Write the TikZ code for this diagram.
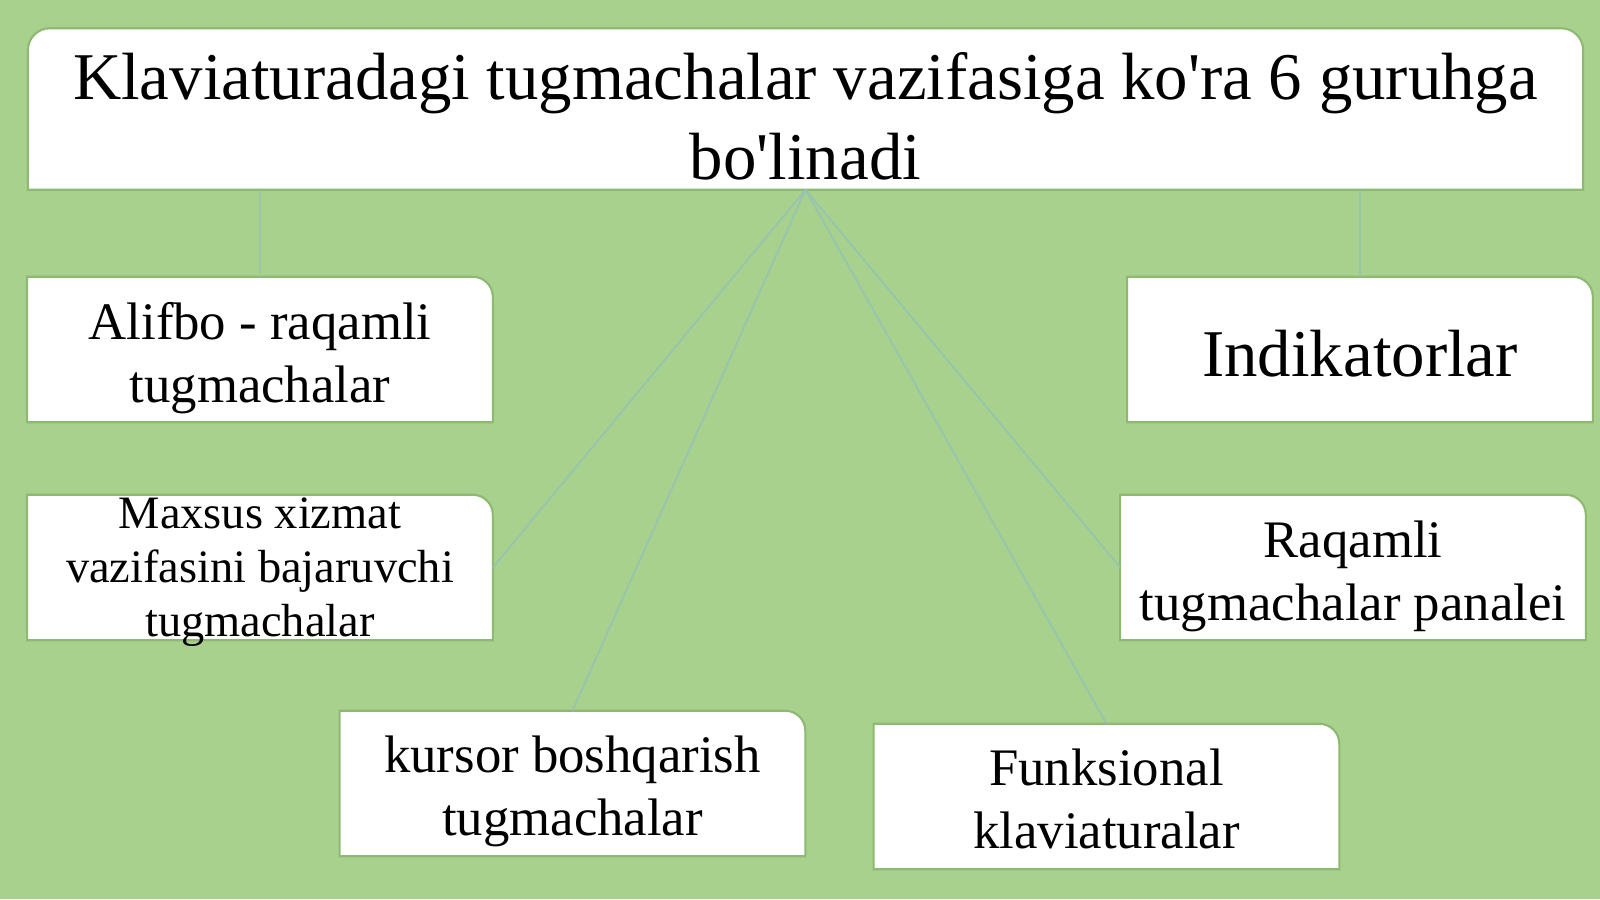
\documentclass[tikz,border=0pt]{standalone}
\usepackage{fontspec}
\setmainfont{Liberation Serif}
\usepackage{xcolor}
\usepackage{tikz}
\usetikzlibrary{calc}

\definecolor{slidegreen}{HTML}{A9D18E}
\definecolor{cardedge}{HTML}{8DB971}
\definecolor{linkcol}{HTML}{94C2B4}

\begin{document}
\begin{tikzpicture}[x=0.01cm, y=0.01cm,
    card/.style={rectangle, inner sep=0pt, minimum width=4.64cm, minimum height=1.44cm},
    cardline/.style={draw=cardedge, fill=white, line width=0.6pt},
    cardtext/.style={align=center, inner sep=0pt, font={\fontsize{15pt}{17.9pt}\selectfont}},
    link/.style={linkcol, line width=0.6pt, opacity=0.75}
]
    % Slide
    \fill[slidegreen] (0,0) rectangle (1600,-899);
    \useasboundingbox (0,0) rectangle (1600,-899);

    % Cards
    \node[card, minimum width=15.53cm, minimum height=1.6cm] (top) at (805.5,-109) {};
    \node[card] (alifbo) at (260,-349.5) {};
    \node[card] (maxsus) at (260,-567.5) {};
    \node[card] (indik) at (1360,-349.5) {};
    \node[card] (raqamli) at (1353,-567.5) {};
    \node[card] (kursor) at (572.5,-783.5) {};
    \node[card] (funk) at (1106.5,-796.5) {};

    % Card outlines
    \draw[cardline] (top.south west) -- ([yshift=-0.22cm]top.north west)
        arc[start angle=180, end angle=90, radius=0.22cm] -- ([xshift=-0.22cm]top.north east)
        arc[start angle=90, end angle=0, radius=0.22cm] -- (top.south east) -- cycle;
    \foreach \n in {alifbo, maxsus, indik, raqamli, kursor, funk}
        \draw[cardline] (\n.south west) -- (\n.north west) -- ([xshift=-0.2cm]\n.north east)
            arc[start angle=90, end angle=0, radius=0.2cm] -- (\n.south east) -- cycle;

    % Links
    \draw[link] (top.south -| alifbo.north) -- (alifbo.north);
    \draw[link] (top.south -| indik.north) -- (indik.north);
    \draw[link] (top.south) -- (maxsus.east);
    \draw[link] (top.south) -- (kursor.north);
    \draw[link] (top.south) -- (funk.north);
    \draw[link] (top.south) -- (raqamli.west);

    % Texts
    \node[cardtext, font={\fontsize{19pt}{22.5pt}\selectfont}] (top-t) at (805.5,-116.3)
        {Klaviaturadagi tugmachalar vazifasiga ko\textquotesingle ra 6 guruhga\\bo\textquotesingle linadi};
    \node[cardtext] (alifbo-t) at (260,-358) {Alifbo - raqamli\\tugmachalar};
    \node[cardtext, font={\fontsize{13.2pt}{15.4pt}\selectfont}] (maxsus-t) at (260,-572)
        {Maxsus xizmat\\vazifasini bajaruvchi\\tugmachalar};
    \node[cardtext, font={\fontsize{19pt}{22.5pt}\selectfont}] (indik-t) at (1360,-353.5) {Indikatorlar};
    \node[cardtext] (raqamli-t) at (1353,-576) {Raqamli\\tugmachalar panalei};
    \node[cardtext] (kursor-t) at (572.5,-791) {kursor boshqarish\\tugmachalar};
    \node[cardtext] (funk-t) at (1106.5,-799) {Funksional\\klaviaturalar};
\end{tikzpicture}
\end{document}
